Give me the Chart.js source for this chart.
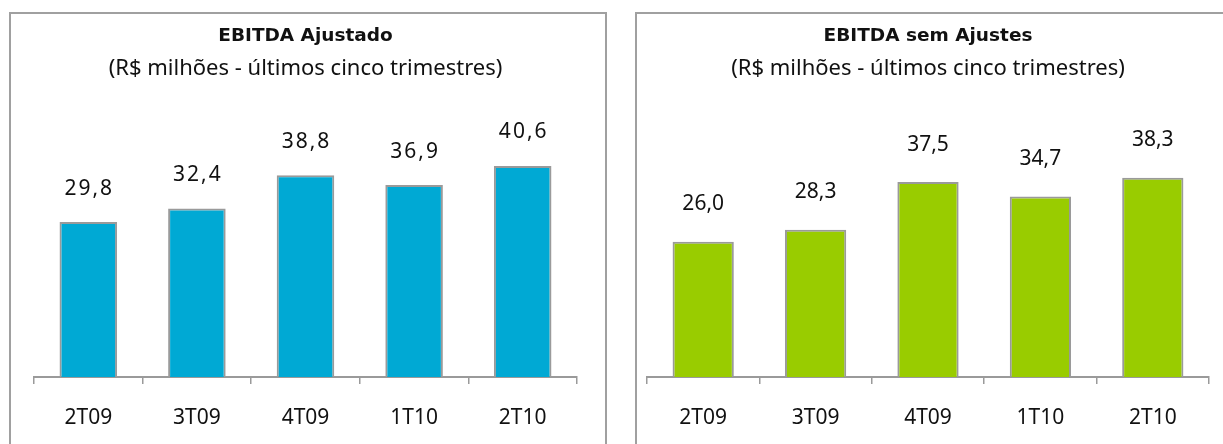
<!DOCTYPE html>
<html>
<head>
<meta charset="utf-8">
<script src="https://cdn.jsdelivr.net/npm/chart.js@4"></script>
<style>
  body { margin: 0; background: #fff; width: 1223px; height: 444px; overflow: hidden; position: relative; }
  .painel { position: absolute; top: 12px; height: 460px; border: 2px solid #a0a0a0; box-sizing: border-box; }
  .caixa { position: absolute; top: 0; height: 444px; }
</style>
</head>
<body>
<div class="painel" style="left:9px; width:598px;"></div>
<div class="painel" style="left:635px; width:620px;"></div>
<div class="caixa" style="left:0; width:615px;"><canvas id="graficoAjustado"></canvas></div>
<div class="caixa" style="left:615px; width:608px;"><canvas id="graficoSemAjustes"></canvas></div>
<script>
// Dados (R$ milhões)
const trimestres = ['2T09', '3T09', '4T09', '1T10', '2T10'];
const ebitdaAjustado = [29.8, 32.4, 38.8, 36.9, 40.6];
const ebitdaSemAjustes = [26.0, 28.3, 37.5, 34.7, 38.3];

const subtitulo = '(R$ milhões - últimos cinco trimestres)';

// Rótulos de valor acima das barras, com vírgula decimal
const rotulosValor = {
    id: 'rotulosValor',
    afterDatasetsDraw(chart, args, opts) {
        const ctx = chart.ctx;
        const meta = chart.getDatasetMeta(0);
        ctx.save();
        ctx.font = '21px "Noto Sans"';
        ctx.fillStyle = '#111';
        ctx.textAlign = 'center';
        ctx.textBaseline = 'alphabetic';
        ctx.letterSpacing = opts.espaco + 'px';
        meta.data.forEach(function(barra, i) {
            const texto = chart.data.datasets[0].data[i].toFixed(1).replace('.', ',');
            ctx.fillText(texto, barra.x + opts.espaco / 2, barra.y - opts.distancia);
        });
        ctx.restore();
    }
};

function criaGrafico(id, titulo, valores, cor, pad, largura, espaco, distancia) {
    const ctx = document.getElementById(id);
    return new Chart(ctx, {
        type: 'bar',
        data: {
            labels: trimestres,
            datasets: [{
                data: valores,
                backgroundColor: cor,
                borderColor: '#9a9a9a',
                borderWidth: 2,
                categoryPercentage: 1,
                barPercentage: largura
            }]
        },
        options: {
            responsive: true,
            maintainAspectRatio: false,
            animation: false,
            layout: { padding: { left: pad.left, right: pad.right, top: 0, bottom: 0 } },
            plugins: {
                legend: { display: false },
                tooltip: { enabled: false },
                title: {
                    display: true,
                    text: titulo,
                    color: '#111',
                    font: { family: '"DejaVu Sans"', size: 18.5, weight: 'bold', lineHeight: 1.2 },
                    padding: { top: 25, bottom: 0 }
                },
                subtitle: {
                    display: true,
                    text: subtitulo,
                    color: '#111',
                    font: { family: '"Noto Sans"', size: 22, lineHeight: 1.2 },
                    padding: { top: 8.6, bottom: 34.8 }
                },
                rotulosValor: { espaco: espaco, distancia: distancia }
            },
            scales: {
                x: {
                    afterFit(scale) { scale.height = 67; },
                    grid: {
                        offset: true,
                        drawOnChartArea: false,
                        drawTicks: true,
                        tickLength: 7,
                        color: '#9a9a9a',
                        lineWidth: 1.5
                    },
                    border: { display: true, color: '#9a9a9a', width: 2 },
                    ticks: {
                        color: '#111',
                        padding: 21,
                        font: { family: '"Noto Sans"', size: 21 }
                    }
                },
                y: { display: false, min: 0, max: 50 }
            }
        },
        plugins: [rotulosValor]
    });
}

criaGrafico('graficoAjustado', 'EBITDA Ajustado', ebitdaAjustado, '#00a9d4',
    { left: 34, right: 38 }, 0.53, 2, 27.5);
criaGrafico('graficoSemAjustes', 'EBITDA sem Ajustes', ebitdaSemAjustes, '#99cc00',
    { left: 32, right: 14 }, 0.545, 0, 31.5);
</script>
</body>
</html>
